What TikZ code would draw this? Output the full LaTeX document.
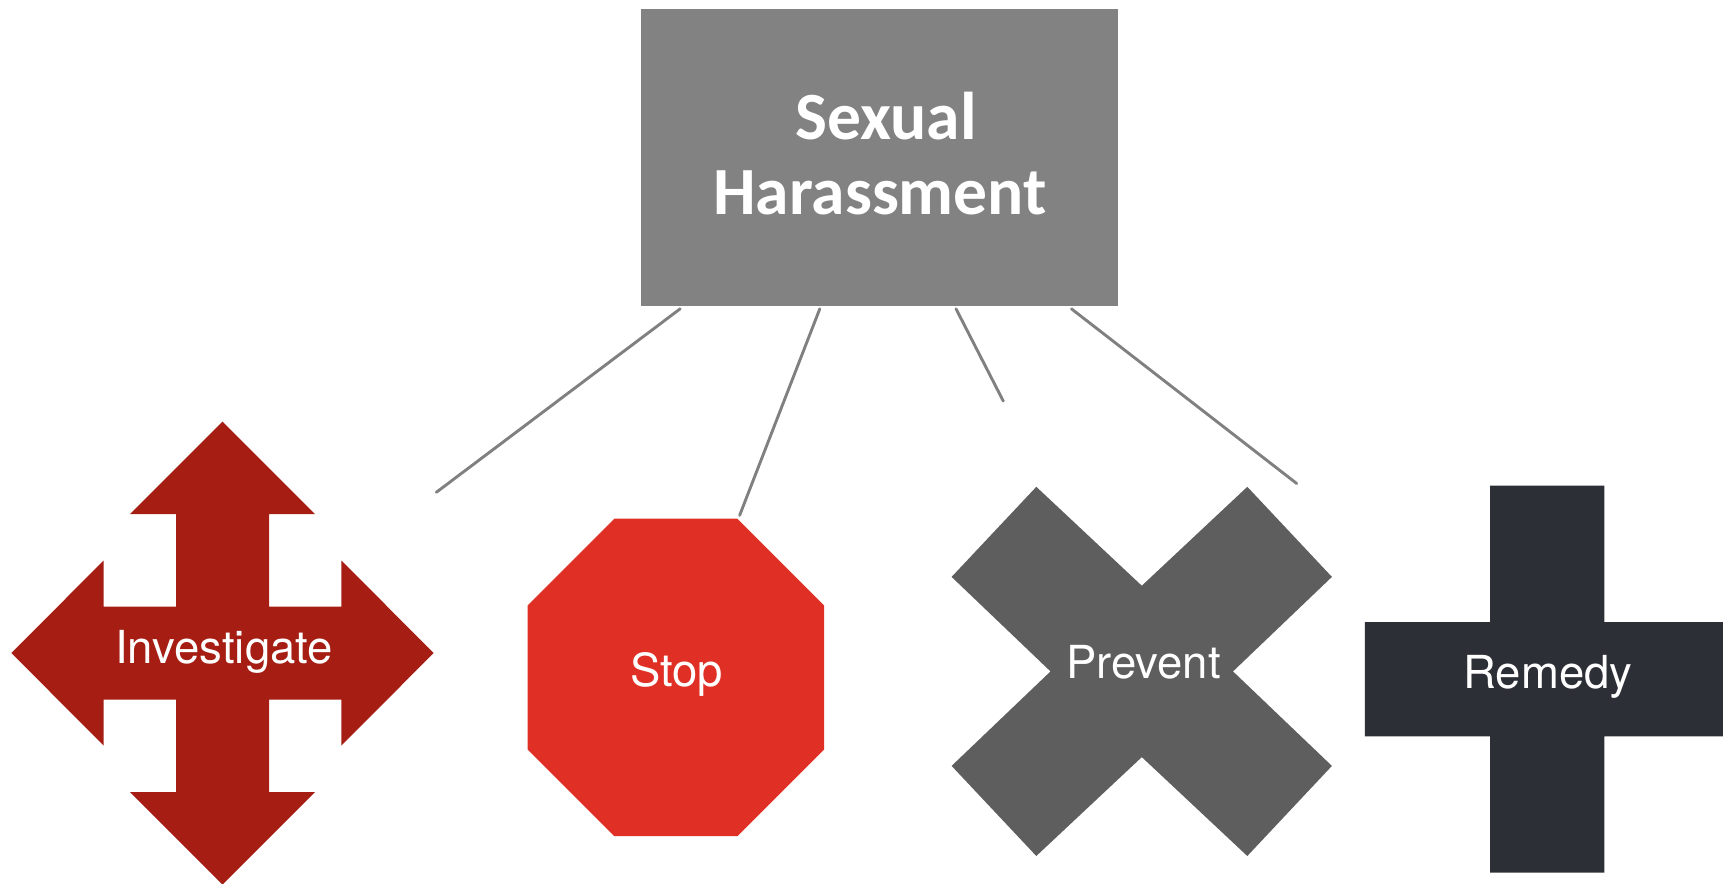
\documentclass[tikz,border=0pt]{standalone}
\usepackage{fontspec}
\setmainfont{TeX Gyre Heros}
\newfontfamily\titlefont{Carlito}[Scale=1]
\definecolor{linegray}{HTML}{808080}
\definecolor{boxgray}{HTML}{828282}
\definecolor{arrowred}{HTML}{A51D13}
\definecolor{stopred}{HTML}{E03026}
\definecolor{xgray}{HTML}{5E5E5E}
\definecolor{plusdark}{HTML}{2D2F36}
\tikzset{
  labeltext/.style={text=white,anchor=base,inner sep=0pt,font=\fontsize{45.5}{48}\selectfont},
  titletext/.style={text=white,anchor=base,inner sep=0pt,font=\titlefont\bfseries\fontsize{67.5}{70}\selectfont},
  connector/.style={draw=linegray,line width=2.9pt,line cap=round},
}
\begin{document}
\begin{tikzpicture}[x=1pt,y=-1pt]
\useasboundingbox (0,0) rectangle (1723,883);
% shapes
\fill[arrowred] (222.5,421.5) -- (315,514) -- (269,514) -- (269,606.5) -- (341.3,606.5) -- (341.3,560.5) -- (433.7,653) -- (341.3,745.5) -- (341.3,699.5) -- (269,699.5) -- (269,792) -- (315,792) -- (222.5,884.5) -- (130,792) -- (176,792) -- (176,699.5) -- (103.7,699.5) -- (103.7,745.5) -- (11.3,653) -- (103.7,560.5) -- (103.7,606.5) -- (176,606.5) -- (176,514) -- (130,514) -- cycle;
\fill[stopred] (614.3,518.7) -- (737.4,518.7) -- (824.2,605.5) -- (824.2,749.4) -- (737.4,836.2) -- (614.3,836.2) -- (527.5,749.4) -- (527.5,605.5) -- cycle;
\fill[xgray] (1036.3,486.8) -- (1141.8,585.7) -- (1247.3,486.8) -- (1331.9,576.9) -- (1233,671.4) -- (1331.9,765.9) -- (1247.3,856) -- (1141.8,757.1) -- (1036.3,856) -- (951.6,765.9) -- (1050.5,671.4) -- (951.6,576.9) -- cycle;
\fill[plusdark] (1490,485.7) -- (1604.4,485.7) -- (1604.4,622) -- (1723,622) -- (1723,736.3) -- (1604.4,736.3) -- (1604.4,872.6) -- (1490,872.6) -- (1490,736.3) -- (1364.8,736.3) -- (1364.8,622) -- (1490,622) -- cycle;
\node[fill=boxgray,minimum width=477pt,minimum height=297pt,inner sep=0pt,outer sep=0pt] (box) at (879.1,157.5) {};
% text
\node[titletext] (sexual) at (886,139.6) {Sexual};
\node[titletext] (harass) at (880,214.3) {Harassment};
\node[labeltext] (investigate) at (224,663) {Investigate};
\node[labeltext] (stop) at (676.5,686) {Stop};
\node[labeltext] (prevent) at (1143.4,678) {Prevent};
\node[labeltext] (remedy) at (1548,688) {Remedy};
% connector ends
\coordinate (a1) at (680.2,308.8);
\coordinate (a2) at (436.3,492.3);
\coordinate (b1) at (819.8,308.8);
\coordinate (b2) at (739.6,515.4);
\coordinate (c1) at (956.0,308.8);
\coordinate (c2) at (1003.3,401.1);
\coordinate (d1) at (1071.4,308.8);
\coordinate (d2) at (1296.7,483.5);
\draw[connector] (a1) -- (a2);
\draw[connector] (b1) -- (b2);
\draw[connector] (c1) -- (c2);
\draw[connector] (d1) -- (d2);
\end{tikzpicture}
\end{document}
